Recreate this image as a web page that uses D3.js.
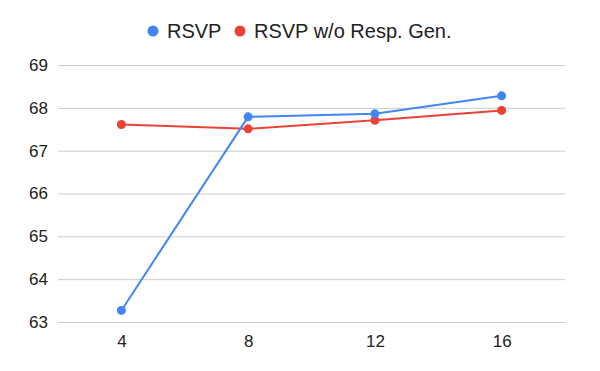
<!DOCTYPE html>
<html>
<head>
<meta charset="utf-8">
<script src="https://cdn.jsdelivr.net/npm/d3@7"></script>
<style>
  body { margin: 0; background: #fff; }
  text { font-family: "Liberation Sans", Arial, sans-serif; fill: #222; }
</style>
</head>
<body>
<div id="root"></div>
<script>
const categories = ["4", "8", "12", "16"]
const rsvp = [63.27, 67.79, 67.86, 68.28]
const rsvpNoGen = [67.61, 67.51, 67.71, 67.94]
const yTicks = [63, 64, 65, 66, 67, 68, 69]
const seriesNames = ["RSVP", "RSVP w/o Resp. Gen."]
const colors = ["#4285F4", "#EA4335"]

const width = 600
const height = 371
const margin = { top: 65, right: 35, bottom: 49, left: 58 }

const svg = d3.select("#root").append("svg")
  .attr("width", width)
  .attr("height", height)

const xScale = d3.scalePoint()
  .domain(categories)
  .range([margin.left, width - margin.right])
  .padding(0.5)

const yScale = d3.scaleLinear()
  .domain([63, 69])
  .range([height - margin.bottom, margin.top])

// grid
const yAxis = svg.append("g")
  .attr("transform", `translate(${margin.left},0)`)
  .call(d3.axisLeft(yScale)
    .tickValues(yTicks)
    .tickSize(-(width - margin.left - margin.right))
    .tickPadding(10)
    .tickFormat(d3.format("d")))
yAxis.select(".domain").remove()
yAxis.selectAll("line").attr("stroke", "#cccccc")
yAxis.selectAll("text")
  .style("font-size", "17px")
  .attr("fill", "#222")

const xAxis = svg.append("g")
  .attr("transform", `translate(0,${height - margin.bottom})`)
  .call(d3.axisBottom(xScale).tickSize(0).tickPadding(13))
xAxis.select(".domain").remove()
xAxis.selectAll("text")
  .style("font-size", "17px")
  .attr("fill", "#222")

const series = [rsvpNoGen, rsvp]
const seriesColors = [colors[1], colors[0]]

const line = d3.line()
  .x((d, i) => xScale(categories[i]))
  .y(d => yScale(d))

series.forEach((values, si) => {
  svg.append("path")
    .datum(values)
    .attr("d", line)
    .attr("fill", "none")
    .attr("stroke", seriesColors[si])
    .attr("stroke-width", 2)

  svg.append("g").selectAll("circle")
    .data(values)
    .join("circle")
    .attr("cx", (d, i) => xScale(categories[i]))
    .attr("cy", d => yScale(d))
    .attr("r", 4.5)
    .attr("fill", seriesColors[si])
})

// legend
const legend = svg.append("g").attr("transform", "translate(0,31)")
const legendX = [153, 240]
seriesNames.forEach((name, i) => {
  legend.append("circle")
    .attr("cx", legendX[i])
    .attr("cy", 0)
    .attr("r", 5.5)
    .attr("fill", colors[i])
  legend.append("text")
    .attr("x", legendX[i] + 14)
    .attr("y", 0)
    .attr("dy", "0.35em")
    .style("font-size", "20px")
    .text(name)
})
</script>
</body>
</html>
